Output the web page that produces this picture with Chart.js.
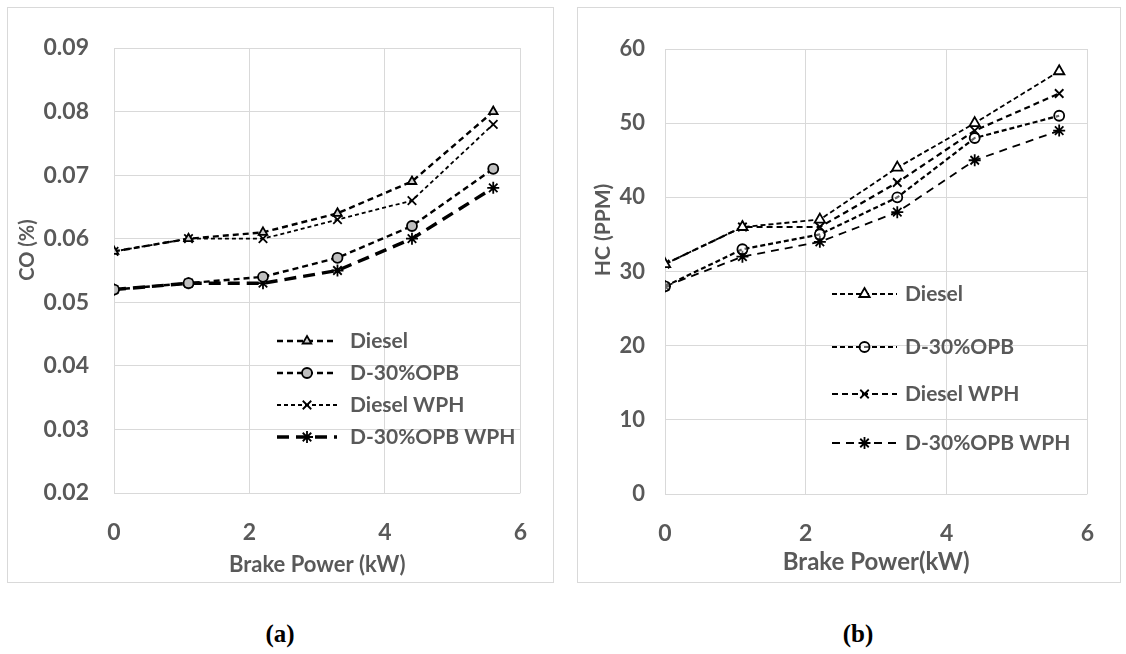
<!DOCTYPE html>
<html>
<head>
<meta charset="utf-8">
<script src="https://cdn.jsdelivr.net/npm/chart.js@4"></script>
<style>
  body { margin: 0; background: #fff; width: 1126px; height: 654px; position: relative; overflow: hidden; }
  .box { position: absolute; border: 1px solid #d9d9d9; background: #fff; }
  .box canvas { display: block; }
  .cap { position: absolute; font-family: "Liberation Serif", "Times New Roman", serif; font-weight: bold; font-size: 25px; color: #000; transform: translate(-50%, -50%); }
</style>
</head>
<body>
<div class="box" style="left:7px; top:7px;"><canvas id="coChart" width="545" height="574"></canvas></div>
<div class="box" style="left:577px; top:7px;"><canvas id="hcChart" width="542" height="574"></canvas></div>
<div class="cap" style="left:280px; top:634px;">(a)</div>
<div class="cap" style="left:858px; top:634px;">(b)</div>

<script>
// Brake power (kW)
const brakePower = [0, 1.1, 2.2, 3.3, 4.4, 5.6];

const seriesNames = ["Diesel", "D-30%OPB", "Diesel WPH", "D-30%OPB WPH"];

// CO (%)
const coDiesel    = [0.058, 0.060, 0.061, 0.064, 0.069, 0.080];
const coOPB       = [0.052, 0.053, 0.054, 0.057, 0.062, 0.071];
const coDieselWPH = [0.058, 0.060, 0.060, 0.063, 0.066, 0.078];
const coOPBWPH    = [0.052, 0.053, 0.053, 0.055, 0.060, 0.068];

// HC (PPM)
const hcDiesel    = [31, 36, 37, 44, 50, 57];
const hcOPB       = [28, 33, 35, 40, 48, 51];
const hcDieselWPH = [31, 36, 36, 42, 49, 54];
const hcOPBWPH    = [28, 32, 34, 38, 45, 49];

const textGray = "#595959";
const gridGray = "#d9d9d9";

Chart.defaults.font.family = "Lato";
Chart.defaults.font.weight = "bold";
Chart.defaults.color = textGray;

function points(ys) {
    return brakePower.map((x, i) => ({ x: x, y: ys[i] }));
}

function makeSet(label, ys, style, dash, width, fill, radius) {
    return {
        label: label,
        data: points(ys),
        borderColor: "#000",
        borderWidth: width,
        borderDash: dash,
        pointStyle: style,
        pointRadius: radius,
        pointBorderColor: "#000",
        pointBorderWidth: 1.8,
        pointBackgroundColor: fill,
        fill: false,
        tension: 0
    };
}

// legend drawn inside the plot: dashed line + marker + label, plus the y title
const lineLegend = {
    id: "lineLegend",
    afterDraw(chart, args, opts) {
        const ctx = chart.ctx;
        ctx.save();
        chart.data.datasets.forEach((ds, i) => {
            const y = opts.rows[i];
            ctx.beginPath();
            ctx.strokeStyle = "#000";
            ctx.lineWidth = ds.borderWidth;
            ctx.setLineDash(ds.borderDash || []);
            ctx.moveTo(opts.x0, y);
            ctx.lineTo(opts.x1, y);
            ctx.stroke();
            ctx.setLineDash([]);
            ctx.fillStyle = ds.pointBackgroundColor;
            ctx.strokeStyle = "#000";
            ctx.lineWidth = ds.pointBorderWidth;
            Chart.helpers.drawPoint(ctx, {
                pointStyle: ds.pointStyle,
                radius: ds.pointRadius,
                borderWidth: ds.pointBorderWidth,
                rotation: 0
            }, (opts.x0 + opts.x1) / 2, y);
            ctx.fillStyle = textGray;
            ctx.font = "bold " + opts.fontSize + "px Lato";
            ctx.textBaseline = "middle";
            ctx.textAlign = "left";
            ctx.fillText(ds.label, opts.textX, y);
        });
        ctx.translate(opts.titleX, opts.titleY);
        ctx.rotate(-Math.PI / 2);
        ctx.font = "bold " + opts.titleSize + "px Lato";
        ctx.textAlign = "center";
        ctx.textBaseline = "middle";
        ctx.fillStyle = textGray;
        ctx.fillText(opts.title, 0, 0);
        ctx.restore();
    }
};

function makeChart(id, sets, yMin, yMax, yStep, yDigits, lay) {
    return new Chart(document.getElementById(id), {
        type: "line",
        data: { datasets: sets },
        options: {
            responsive: false,
            animation: false,
            devicePixelRatio: 1,
            layout: { padding: { top: lay.top, right: lay.right, left: 0, bottom: 0 } },
            plugins: {
                legend: { display: false },
                tooltip: { enabled: false },
                lineLegend: lay.legend
            },
            scales: {
                x: {
                    type: "linear",
                    min: 0, max: 6,
                    ticks: { stepSize: 2, padding: lay.xPad, font: { size: 23, weight: "bold" }, color: textGray },
                    grid: { color: gridGray, drawTicks: false },
                    border: { display: false },
                    title: { display: true, text: lay.xTitle, font: { size: lay.xTitleSize, weight: "bold" }, color: textGray, padding: { top: 0, bottom: lay.xTitlePad } },
                    afterFit(scale) { scale.height = lay.xHeight; }
                },
                y: {
                    min: yMin, max: yMax,
                    ticks: {
                        stepSize: yStep, padding: lay.yPad,
                        font: { size: lay.yTickSize, weight: "bold" }, color: textGray,
                        callback: v => v.toFixed(yDigits)
                    },
                    grid: { color: gridGray, drawTicks: false },
                    border: { display: false },
                    afterFit(scale) { scale.width = lay.yWidth; }
                }
            }
        },
        plugins: [lineLegend]
    });
}

makeChart("coChart", [
    makeSet(seriesNames[0], coDiesel, "triangle", [6, 4], 2.4, "#d0d0d0", 5),
    makeSet(seriesNames[1], coOPB, "circle", [6, 4], 2.4, "#bfbfbf", 5),
    makeSet(seriesNames[2], coDieselWPH, "crossRot", [4, 3], 1.8, "#fff", 6),
    makeSet(seriesNames[3], coOPBWPH, "star", [12, 7], 3.4, "#fff", 6)
], 0.02, 0.09, 0.01, 2, {
    top: 40, right: 31, yWidth: 106, xHeight: 89, yPad: 25, xPad: 26, yTickSize: 23,
    xTitle: "Brake Power (kW)", xTitleSize: 22, xTitlePad: 4,
    legend: { x0: 269, x1: 329, textX: 342, rows: [333, 365, 397, 429], fontSize: 21,
              title: "CO (%)", titleX: 20, titleY: 242, titleSize: 20 }
});

makeChart("hcChart", [
    makeSet(seriesNames[0], hcDiesel, "triangle", [5, 3], 1.8, "#fff", 6),
    makeSet(seriesNames[1], hcOPB, "circle", [5, 3], 2.2, "rgba(255,255,255,0.4)", 5),
    makeSet(seriesNames[2], hcDieselWPH, "crossRot", [6, 4], 2.2, "#fff", 6),
    makeSet(seriesNames[3], hcOPBWPH, "star", [8, 6], 1.8, "#fff", 6)
], 0, 60, 10, 0, {
    top: 41, right: 21, yWidth: 87, xHeight: 88, yPad: 20, xPad: 26, yTickSize: 22,
    xTitle: "Brake Power(kW)", xTitleSize: 24, xTitlePad: 5,
    legend: { x0: 254, x1: 319, textX: 327, rows: [286, 339, 386, 435], fontSize: 21,
              title: "HC (PPM)", titleX: 25, titleY: 222, titleSize: 21 }
});
</script>
</body>
</html>
